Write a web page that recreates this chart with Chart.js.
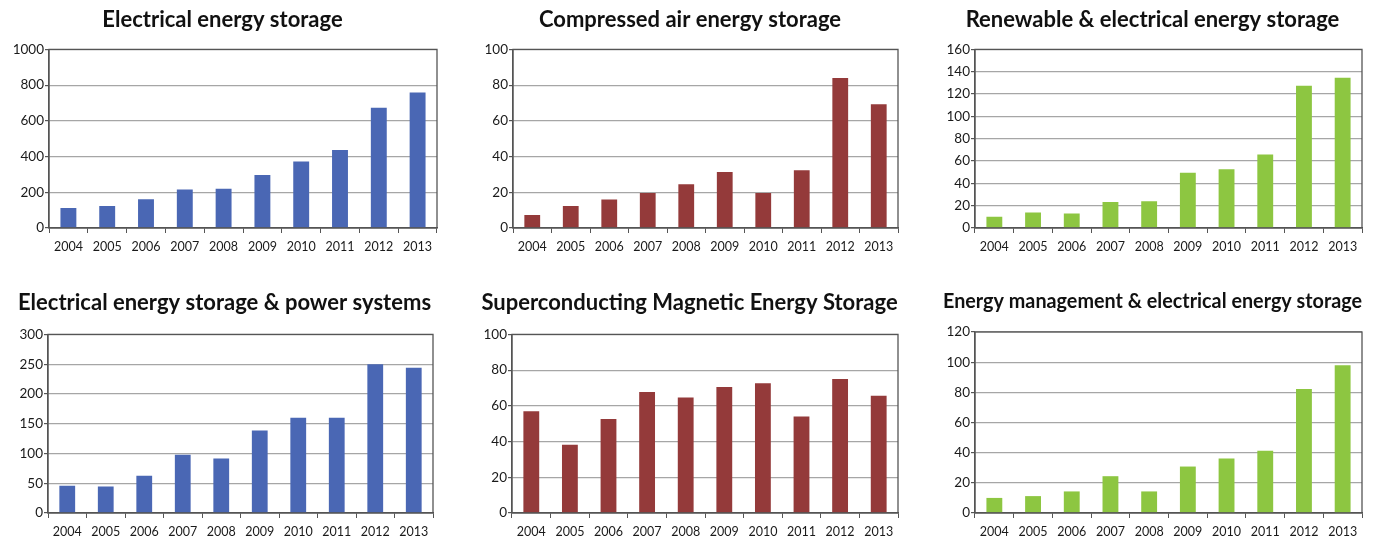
<!DOCTYPE html>
<html lang="en">
<head>
  <meta charset="UTF-8">
  <title>Energy storage publications 2004-2013</title>
  <script src="https://cdn.jsdelivr.net/npm/chart.js"></script>
  <style>
    body {
      margin: 0;
      background: #fff;
      width: 1383px;
      height: 541px;
      position: relative;
      overflow: hidden;
    }

    .panel {
      position: absolute;
    }
  </style>
</head>
<body>
  <div class="panel" style="left:0;top:0;width:460px;height:270px"><canvas id="c1"></canvas></div>
  <div class="panel" style="left:460px;top:0;width:460px;height:270px"><canvas id="c2"></canvas></div>
  <div class="panel" style="left:920px;top:0;width:463px;height:270px"><canvas id="c3"></canvas></div>
  <div class="panel" style="left:0;top:270px;width:460px;height:271px"><canvas id="c4"></canvas></div>
  <div class="panel" style="left:460px;top:270px;width:460px;height:271px"><canvas id="c5"></canvas></div>
  <div class="panel" style="left:920px;top:270px;width:463px;height:271px"><canvas id="c6"></canvas></div>

  <script>
    // Years shared by all six panels
    const years = ["2004", "2005", "2006", "2007", "2008", "2009", "2010", "2011", "2012", "2013"];

    // Values
    const electricalStorage = [112, 123, 161, 215, 220, 297, 372, 437, 673, 758];
    const compressedAir = [7.3, 12.3, 16, 19.6, 24.5, 31.4, 19.6, 32.3, 84, 69.3];
    const renewableElectrical = [10, 13.8, 12.9, 23.4, 24, 49.4, 52.7, 65.9, 127.5, 134.7];
    const electricalPower = [45.8, 44.7, 62.6, 97.8, 91.6, 138.5, 160, 160, 249.7, 244];
    const superconducting = [57, 38.2, 52.7, 67.8, 64.6, 70.6, 72.6, 54, 75, 65.7];
    const energyManagement = [10, 11.2, 14.3, 24.4, 14.3, 30.8, 36.2, 41.3, 82.2, 97.9];

    // Axis maxima / steps as printed
    const yMax = [1000, 100, 160, 300, 100, 120];
    const yStep = [200, 20, 20, 50, 20, 20];

    const titles = [
      "Electrical energy storage",
      "Compressed air energy storage",
      "Renewable & electrical energy storage",
      "Electrical energy storage & power systems",
      "Superconducting Magnetic Energy Storage",
      "Energy management & electrical energy storage"
    ];

    const BLUE = "#4a67b4";
    const RED = "#943a3a";
    const GREEN = "#8dc641";

    // Draws the dark frame round the plot area
    const frame = {
      id: "frame",
      afterDraw(chart) {
        const a = chart.chartArea;
        const ctx = chart.ctx;
        ctx.save();
        ctx.strokeStyle = "#555";
        ctx.lineWidth = 1.3;
        ctx.strokeRect(a.left, a.top, a.right - a.left, a.bottom - a.top);
        ctx.restore();
      }
    };

    // layout per panel: padding left, y axis width, padding right, title top/bottom padding, x axis height
    const panels = [
      { id: "c1", data: electricalStorage, color: BLUE, size: 22, pl: 8, yw: 41, pr: 23, tt: 7, tb: 16, xh: 42 },
      { id: "c2", data: compressedAir, color: RED, size: 22, pl: 22, yw: 31, pr: 22, tt: 7, tb: 16, xh: 42 },
      { id: "c3", data: renewableElectrical, color: GREEN, size: 22, pl: 23, yw: 32, pr: 21, tt: 7, tb: 16, xh: 42 },
      { id: "c4", data: electricalPower, color: BLUE, size: 22, pl: 16, yw: 32, pr: 27, tt: 20, tb: 18, xh: 28 },
      { id: "c5", data: superconducting, color: RED, size: 22, pl: 21, yw: 31, pr: 22, tt: 20, tb: 18, xh: 28 },
      { id: "c6", data: energyManagement, color: GREEN, size: 20, pl: 23, yw: 32, pr: 21, tt: 20, tb: 18, xh: 28 }
    ];

    Chart.defaults.font.family = "Lato, 'Open Sans', sans-serif";
    Chart.defaults.color = "#1a1a1a";

    panels.forEach((p, i) => {
      new Chart(document.getElementById(p.id), {
        type: "bar",
        data: {
          labels: years,
          datasets: [{
            data: p.data,
            backgroundColor: p.color,
            borderWidth: 0,
            barPercentage: 0.41,
            categoryPercentage: 1.0
          }]
        },
        options: {
          responsive: true,
          maintainAspectRatio: false,
          animation: false,
          layout: {
            padding: { left: p.pl, right: p.pr, top: 0, bottom: 0 }
          },
          plugins: {
            legend: { display: false },
            tooltip: { enabled: false },
            title: {
              display: true,
              text: titles[i],
              color: "#111",
              font: { size: p.size, weight: "bold" },
              padding: { top: p.tt, bottom: p.tb }
            }
          },
          scales: {
            x: {
              grid: {
                display: true,
                drawOnChartArea: false,
                drawTicks: true,
                tickLength: 5,
                color: "#555"
              },
              border: { display: true, color: "#555", width: 1.3 },
              ticks: {
                font: { size: 12.5 },
                color: "#1a1a1a",
                padding: 6,
                maxRotation: 0
              },
              afterFit(s) { s.height = p.xh; }
            },
            y: {
              min: 0,
              max: yMax[i],
              grid: {
                color: "#a6a6a6",
                lineWidth: 1.2,
                drawTicks: true,
                tickLength: 4,
                tickColor: "#555"
              },
              border: { display: true, color: "#555", width: 1.3 },
              ticks: {
                stepSize: yStep[i],
                font: { size: 13.5 },
                color: "#1a1a1a",
                padding: 1,
                callback: (v) => String(v)
              },
              afterFit(s) { s.width = p.yw; }
            }
          }
        },
        plugins: [frame]
      });
    });
  </script>
</body>
</html>
